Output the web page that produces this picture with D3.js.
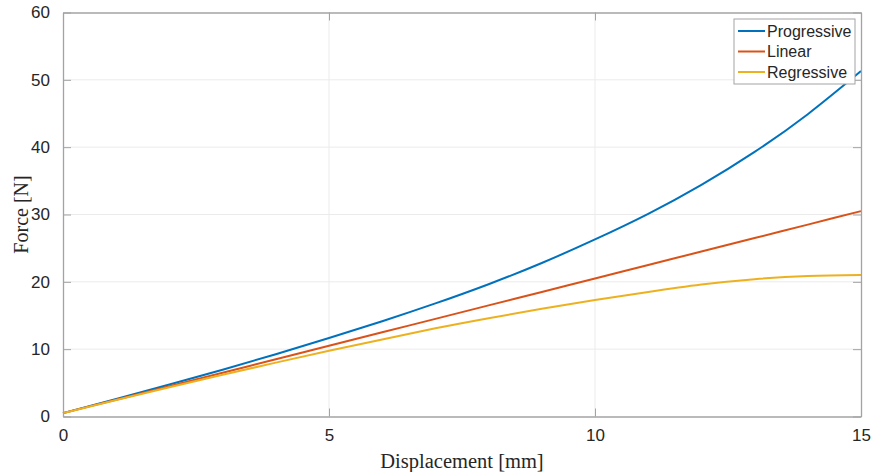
<!DOCTYPE html>
<html>
<head>
<meta charset="utf-8">
<script src="https://cdn.jsdelivr.net/npm/d3@7/dist/d3.min.js"></script>
<style>
  html, body { margin: 0; padding: 0; background: #fff; }
  svg { display: block; }
</style>
</head>
<body>
<svg id="chart" width="875" height="472"></svg>
<script>
// values
const displacement = [0, 1, 2, 3, 4, 5, 6, 7, 8, 9, 10, 11, 12, 13, 14, 15];
const progressive = [0.5, 2.6, 4.75, 6.95, 9.25, 11.65, 14.15, 16.8, 19.65, 22.8, 26.3, 30.1, 34.4, 39.3, 44.9, 51.3];
const linear      = [0.5, 2.5, 4.5, 6.5, 8.5, 10.5, 12.5, 14.5, 16.5, 18.5, 20.5, 22.5, 24.5, 26.5, 28.5, 30.5];
const regressive  = [0.5, 2.45, 4.35, 6.2, 8.0, 9.75, 11.45, 13.1, 14.6, 16.0, 17.3, 18.5, 19.6, 20.4, 20.85, 21.0];

const xTicks = [0, 5, 10, 15];
const yTicks = [0, 10, 20, 30, 40, 50, 60];

const seriesNames = ['Progressive', 'Linear', 'Regressive'];
const seriesColors = ['#0072BD', '#D95319', '#EDB120'];
const seriesValues = [progressive, linear, regressive];

const svg = d3.select('#chart');
const m = { left: 63, right: 861, top: 12.5, bottom: 416.5 };

const x = d3.scaleLinear().domain([0, 15]).range([m.left, m.right]);
const y = d3.scaleLinear().domain([0, 60]).range([m.bottom, m.top]);

const axisColor = '#a3a3a3';
const labelColor = '#262626';
const tickFont = '"Liberation Sans", Arial, Helvetica, sans-serif';
const serifFont = '"Liberation Serif", "DejaVu Serif", serif';

// grid
const grid = svg.append('g');
grid.selectAll('.gx').data(xTicks.slice(1, -1)).enter().append('line')
    .attr('x1', d => x(d)).attr('x2', d => x(d))
    .attr('y1', m.top).attr('y2', m.bottom)
    .attr('stroke', '#ebebeb').attr('stroke-width', 1);
grid.selectAll('.gy').data(yTicks.slice(1, -1)).enter().append('line')
    .attr('y1', d => y(d)).attr('y2', d => y(d))
    .attr('x1', m.left).attr('x2', m.right)
    .attr('stroke', '#ebebeb').attr('stroke-width', 1);

// lines
const line = d3.line()
    .x((d, i) => x(displacement[i]))
    .y(d => y(d))
    .curve(d3.curveNatural);

seriesValues.forEach((vals, k) => {
    svg.append('path')
        .datum(vals)
        .attr('fill', 'none')
        .attr('stroke', seriesColors[k])
        .attr('stroke-width', 2)
        .attr('d', line);
});

// axes (ticks inward, box on)
const tickLen = 8;
const xAxis = d3.axisBottom(x).tickValues(xTicks).tickSizeInner(-tickLen).tickSizeOuter(0).tickPadding(12);
const yAxis = d3.axisLeft(y).tickValues(yTicks).tickSizeInner(-tickLen).tickSizeOuter(0).tickPadding(13);
const xTop = d3.axisTop(x).tickValues(xTicks).tickSizeInner(-tickLen).tickSizeOuter(0).tickFormat('');
const yRight = d3.axisRight(y).tickValues(yTicks).tickSizeInner(-tickLen).tickSizeOuter(0).tickFormat('');

function styleAxis(g) {
    g.selectAll('path').attr('stroke', axisColor).attr('stroke-width', 1.3);
    g.selectAll('line').attr('stroke', axisColor).attr('stroke-width', 1);
    g.selectAll('text').attr('fill', labelColor).style('font-family', tickFont).style('font-size', '17px');
}

svg.append('g').attr('transform', `translate(0,${m.bottom})`).call(xAxis).call(styleAxis);
svg.append('g').attr('transform', `translate(${m.left},0)`).call(yAxis).call(styleAxis);
svg.append('g').attr('transform', `translate(0,${m.top})`).call(xTop).call(styleAxis);
svg.append('g').attr('transform', `translate(${m.right},0)`).call(yRight).call(styleAxis);

// axis labels
svg.append('text')
    .attr('x', (m.left + m.right) / 2).attr('y', 468)
    .attr('text-anchor', 'middle')
    .attr('fill', labelColor)
    .style('font-family', serifFont)
    .style('font-size', '20.5px')
    .text('Displacement [mm]');

svg.append('text')
    .attr('transform', `translate(28,${(m.top + m.bottom) / 2}) rotate(-90)`)
    .attr('text-anchor', 'middle')
    .attr('fill', labelColor)
    .style('font-family', serifFont)
    .style('font-size', '20px')
    .text('Force [N]');

// legend
const lg = svg.append('g').attr('transform', 'translate(734,19)');
lg.append('rect')
    .attr('width', 121).attr('height', 65)
    .attr('fill', '#fff')
    .attr('stroke', axisColor).attr('stroke-width', 1);
seriesNames.forEach((name, k) => {
    const ry = 12 + k * 20.5;
    lg.append('line')
        .attr('x1', 4).attr('x2', 31)
        .attr('y1', ry).attr('y2', ry)
        .attr('stroke', seriesColors[k]).attr('stroke-width', 2);
    lg.append('text')
        .attr('x', 33).attr('y', ry + 5.5)
        .attr('fill', labelColor)
        .style('font-family', tickFont)
        .style('font-size', '16px')
        .text(name);
});
</script>
</body>
</html>
